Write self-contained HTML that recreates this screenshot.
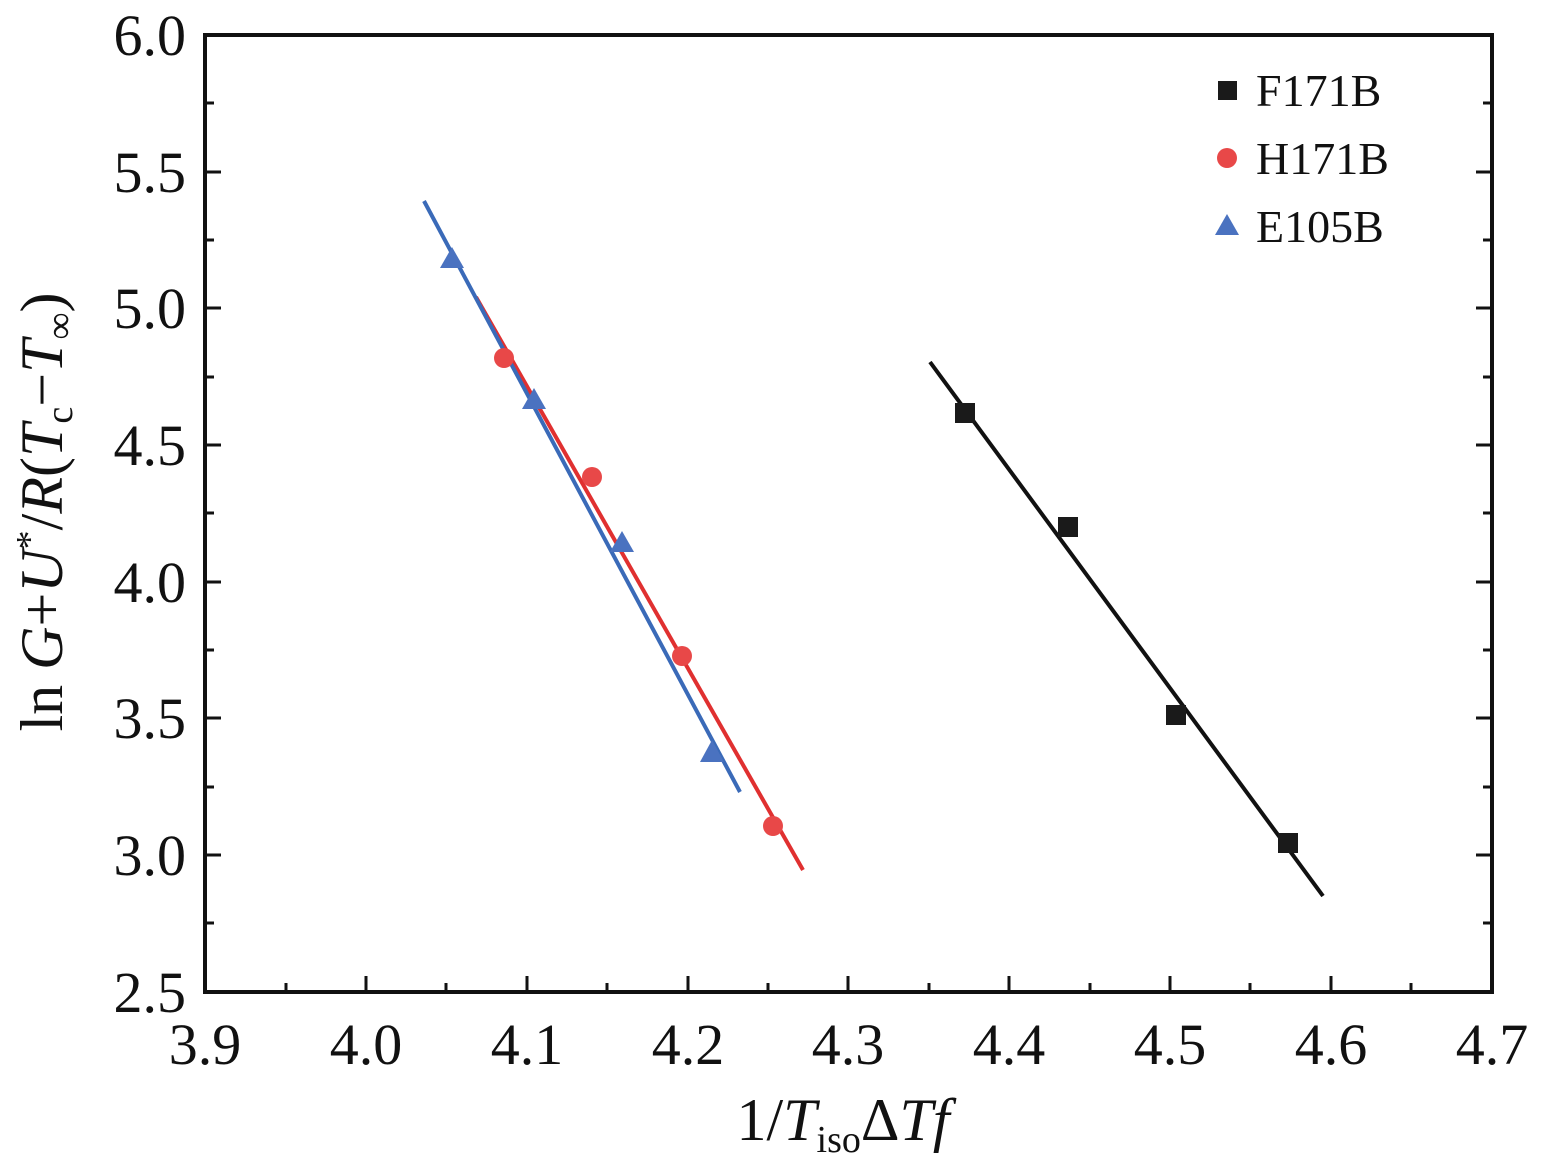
<!DOCTYPE html>
<html><head><meta charset="utf-8"><style>html,body{margin:0;padding:0;background:#fff}</style></head>
<body>
<svg width="1541" height="1157" xmlns="http://www.w3.org/2000/svg" font-family="Liberation Serif, serif">
<rect width="1541" height="1157" fill="#fff"/>
<rect x="205" y="35" width="1287" height="957" fill="none" stroke="#111" stroke-width="4"/>
<g stroke="#111" stroke-width="3">
<line x1="366" y1="992" x2="366" y2="976"/><line x1="527" y1="992" x2="527" y2="976"/><line x1="688" y1="992" x2="688" y2="976"/><line x1="848" y1="992" x2="848" y2="976"/><line x1="1009" y1="992" x2="1009" y2="976"/><line x1="1170" y1="992" x2="1170" y2="976"/><line x1="1331" y1="992" x2="1331" y2="976"/>
<line x1="286" y1="992" x2="286" y2="983"/><line x1="446" y1="992" x2="446" y2="983"/><line x1="607" y1="992" x2="607" y2="983"/><line x1="768" y1="992" x2="768" y2="983"/><line x1="929" y1="992" x2="929" y2="983"/><line x1="1090" y1="992" x2="1090" y2="983"/><line x1="1250" y1="992" x2="1250" y2="983"/><line x1="1411" y1="992" x2="1411" y2="983"/>
<line x1="205" y1="855" x2="221" y2="855"/><line x1="205" y1="718" x2="221" y2="718"/><line x1="205" y1="582" x2="221" y2="582"/><line x1="205" y1="445" x2="221" y2="445"/><line x1="205" y1="308" x2="221" y2="308"/><line x1="205" y1="172" x2="221" y2="172"/>
<line x1="205" y1="923" x2="214" y2="923"/><line x1="205" y1="787" x2="214" y2="787"/><line x1="205" y1="650" x2="214" y2="650"/><line x1="205" y1="513" x2="214" y2="513"/><line x1="205" y1="377" x2="214" y2="377"/><line x1="205" y1="240" x2="214" y2="240"/><line x1="205" y1="103" x2="214" y2="103"/>
<line x1="1492" y1="855" x2="1476" y2="855"/><line x1="1492" y1="718" x2="1476" y2="718"/><line x1="1492" y1="582" x2="1476" y2="582"/><line x1="1492" y1="445" x2="1476" y2="445"/><line x1="1492" y1="308" x2="1476" y2="308"/><line x1="1492" y1="172" x2="1476" y2="172"/>
<line x1="1492" y1="923" x2="1483" y2="923"/><line x1="1492" y1="787" x2="1483" y2="787"/><line x1="1492" y1="650" x2="1483" y2="650"/><line x1="1492" y1="513" x2="1483" y2="513"/><line x1="1492" y1="377" x2="1483" y2="377"/><line x1="1492" y1="240" x2="1483" y2="240"/><line x1="1492" y1="103" x2="1483" y2="103"/>
</g>
<g font-size="58" fill="#111" text-anchor="middle">
<text x="205" y="1064">3.9</text><text x="366" y="1064">4.0</text><text x="527" y="1064">4.1</text><text x="688" y="1064">4.2</text><text x="848" y="1064">4.3</text><text x="1009" y="1064">4.4</text><text x="1170" y="1064">4.5</text><text x="1331" y="1064">4.6</text><text x="1492" y="1064">4.7</text>
</g>
<g font-size="58" fill="#111" text-anchor="end">
<text x="186" y="1012">2.5</text><text x="186" y="875">3.0</text><text x="186" y="738">3.5</text><text x="186" y="602">4.0</text><text x="186" y="465">4.5</text><text x="186" y="328">5.0</text><text x="186" y="192">5.5</text><text x="186" y="55">6.0</text>
</g>
<text x="843" y="1140" font-size="60" text-anchor="middle" fill="#111">1/<tspan font-style="italic">T</tspan><tspan font-size="38" dy="12">iso</tspan><tspan dy="-12">Δ</tspan><tspan font-style="italic">Tf</tspan></text>
<text transform="translate(62,512) rotate(-90)" font-size="60" text-anchor="middle" fill="#111">ln <tspan font-style="italic">G</tspan>+<tspan font-style="italic">U</tspan><tspan font-size="38" dy="-20">*</tspan><tspan dy="20">/</tspan><tspan font-style="italic">R</tspan>(<tspan font-style="italic">T</tspan><tspan font-size="38" dy="10">c</tspan><tspan dy="-10">−</tspan><tspan font-style="italic">T</tspan><tspan font-size="38" dy="10">∞</tspan><tspan dy="-10">)</tspan></text>
<line x1="930" y1="362" x2="1323" y2="896" stroke="#111" stroke-width="4"/>
<line x1="476" y1="297" x2="803" y2="870" stroke="#e03030" stroke-width="4"/>
<line x1="424" y1="201" x2="740" y2="792" stroke="#3a6ab8" stroke-width="4"/>
<g fill="#1a1a1a"><rect x="955" y="403" width="20" height="20"/><rect x="1058" y="517" width="20" height="20"/><rect x="1166" y="705" width="20" height="20"/><rect x="1278" y="833" width="20" height="20"/></g>
<g fill="#e84848"><circle cx="504" cy="358" r="10"/><circle cx="592" cy="477" r="10"/><circle cx="682" cy="656" r="10"/><circle cx="773" cy="826" r="10"/></g>
<g fill="#4a72c0"><polygon points="452,247 440,268 464,268"/><polygon points="534,388 522,409 546,409"/><polygon points="622,531 610,552 634,552"/><polygon points="712,740 700,762 724,762"/></g>
<rect x="1218" y="81" width="19" height="19" fill="#1a1a1a"/>
<circle cx="1227" cy="158" r="10" fill="#e84848"/>
<polygon points="1227,214 1215,235 1239,235" fill="#4a72c0"/>
<g font-size="46" fill="#111"><text x="1256" y="106">F171B</text><text x="1256" y="174">H171B</text><text x="1256" y="242">E105B</text></g>
</svg>
</body></html>
